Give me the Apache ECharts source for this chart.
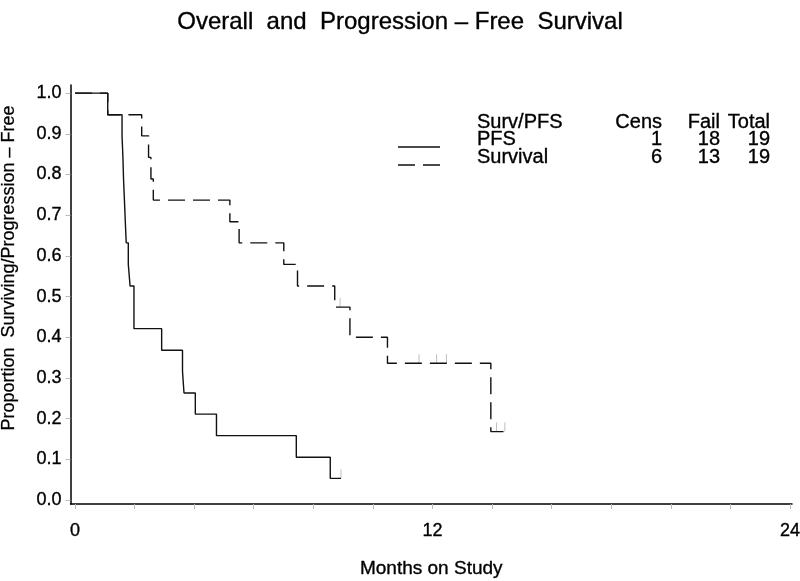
<!DOCTYPE html>
<html>
<head>
<meta charset="utf-8">
<script src="https://cdn.jsdelivr.net/npm/echarts@6/dist/echarts.min.js"></script>
<style>
html,body{margin:0;padding:0;background:#fff;}
#chart{width:800px;height:581px;}
</style>
</head>
<body>
<div id="chart"></div>
<script>
// ---- data ----
const pfsTime = [0, 1.10, 1.58, 1.61, 1.63, 1.66, 1.69, 1.72, 1.79, 1.85, 1.98, 2.91, 3.61, 3.66, 4.04, 4.75, 7.43, 8.57, 8.93];
const pfsSurv = [1.0, 0.947, 0.895, 0.842, 0.789, 0.737, 0.684, 0.632, 0.579, 0.526, 0.421, 0.368, 0.316, 0.263, 0.211, 0.158, 0.105, 0.053, 0.053];
const pfsCensTime = [8.93];
const pfsCensSurv = [0.053];

const osTime = [0, 1.10, 2.24, 2.47, 2.55, 2.63, 5.20, 5.51, 7.01, 7.47, 8.72, 9.23, 10.49, 13.96, 14.43];
const osSurv = [1.0, 0.947, 0.895, 0.842, 0.789, 0.737, 0.684, 0.632, 0.579, 0.526, 0.474, 0.400, 0.336, 0.168, 0.168];
const osCensTime = [8.90, 11.55, 12.14, 12.47, 14.15, 14.43];
const osCensSurv = [0.474, 0.336, 0.336, 0.336, 0.168, 0.168];

const xTickLabels = [0, 12, 24];
const xTicks = [0, 2, 4, 6, 8, 10, 12, 14, 16, 18, 20, 22, 24];
const yTicks = [0, 0.1, 0.2, 0.3, 0.4, 0.5, 0.6, 0.7, 0.8, 0.9, 1.0];

const legendHeader = ['Surv/PFS', 'Cens', 'Fail', 'Total'];
const legendRows = [
  ['PFS', 1, 18, 19],
  ['Survival', 6, 13, 19]
];

// ---- chart ----
const FONT = '"Liberation Sans", Arial, Helvetica, sans-serif';
const zip = (a, b) => a.map((v, i) => [v, b[i]]);
const HEAVY = {textBorderColor: '#000', textBorderWidth: 0.35};

const chart = echarts.init(document.getElementById('chart'), null, {renderer: 'canvas'});

const colX = [477, 662, 720, 770];
const rowY = [122, 139.5, 157];
const g = [];
[legendHeader].concat(legendRows).forEach((row, r) => {
  row.forEach((t, c) => {
    g.push({
      type: 'text', x: colX[c], y: rowY[r],
      style: {
        text: String(t), font: '20px ' + FONT, fill: '#000',
        textAlign: c === 0 ? 'left' : 'right', textVerticalAlign: 'middle',
        stroke: '#000', lineWidth: 0.35
      }
    });
  });
});
g.push({type: 'line', shape: {x1: 398, y1: 147, x2: 440, y2: 147}, style: {stroke: '#111', lineWidth: 1.4}});
g.push({type: 'line', shape: {x1: 398, y1: 165, x2: 440, y2: 165}, style: {stroke: '#111', lineWidth: 1.4, lineDash: [17, 8]}});
g.push({
  type: 'text', x: 9, y: 268, rotation: Math.PI / 2,
  style: {
    text: 'Proportion  Surviving/Progression – Free', font: '18px ' + FONT, fill: '#000',
    textAlign: 'center', textVerticalAlign: 'middle', stroke: '#000', lineWidth: 0.25
  }
});

const censorSymbol = {
  type: 'scatter', symbol: 'rect', symbolSize: [1, 9], symbolOffset: [0, -4.5],
  itemStyle: {color: '#b0b0b0'}, silent: true, z: 1
};

chart.setOption({
  animation: false,
  title: {
    text: 'Overall  and  Progression – Free  Survival',
    left: 'center', top: 5,
    textStyle: Object.assign({fontFamily: FONT, fontSize: 24, fontWeight: 'normal', color: '#000'}, HEAVY)
  },
  grid: {left: 70.5, right: 8, top: 85, bottom: 77, containLabel: false, outerBoundsMode: 'none'},
  xAxis: {
    type: 'value', min: -0.15, max: 24.07,
    name: 'Months on Study', nameLocation: 'middle', nameGap: 55,
    nameTextStyle: Object.assign({fontFamily: FONT, fontSize: 19, color: '#000'}, HEAVY),
    axisLine: {show: true, onZero: false, lineStyle: {color: '#000', width: 1.5}},
    axisTick: {show: true, customValues: xTicks, length: 5, lineStyle: {color: '#bbb'}},
    axisLabel: Object.assign({customValues: xTickLabels, fontFamily: FONT, fontSize: 18, color: '#000', margin: 18}, HEAVY),
    splitLine: {show: false}
  },
  yAxis: {
    type: 'value', min: -0.01, max: 1.02,
    axisLine: {show: true, onZero: false, lineStyle: {color: '#000', width: 1.5}},
    axisTick: {show: true, customValues: yTicks, length: 5, lineStyle: {color: '#bbb'}},
    axisLabel: Object.assign({customValues: yTicks, fontFamily: FONT, fontSize: 18, color: '#000', margin: 9,
      formatter: v => Number(v).toFixed(1)}, HEAVY),
    splitLine: {show: false}
  },
  graphic: g,
  series: [
    {
      name: 'PFS', type: 'line', step: 'end', data: zip(pfsTime, pfsSurv),
      showSymbol: false, lineStyle: {color: '#111', width: 1.4}, z: 3
    },
    {
      name: 'Survival', type: 'line', step: 'end', data: zip(osTime, osSurv),
      showSymbol: false, lineStyle: {color: '#111', width: 1.4, type: [17, 8]}, z: 2
    },
    Object.assign({name: 'PFS censored', data: zip(pfsCensTime, pfsCensSurv)}, censorSymbol),
    Object.assign({name: 'Survival censored', data: zip(osCensTime, osCensSurv)}, censorSymbol)
  ]
});
</script>
</body>
</html>
